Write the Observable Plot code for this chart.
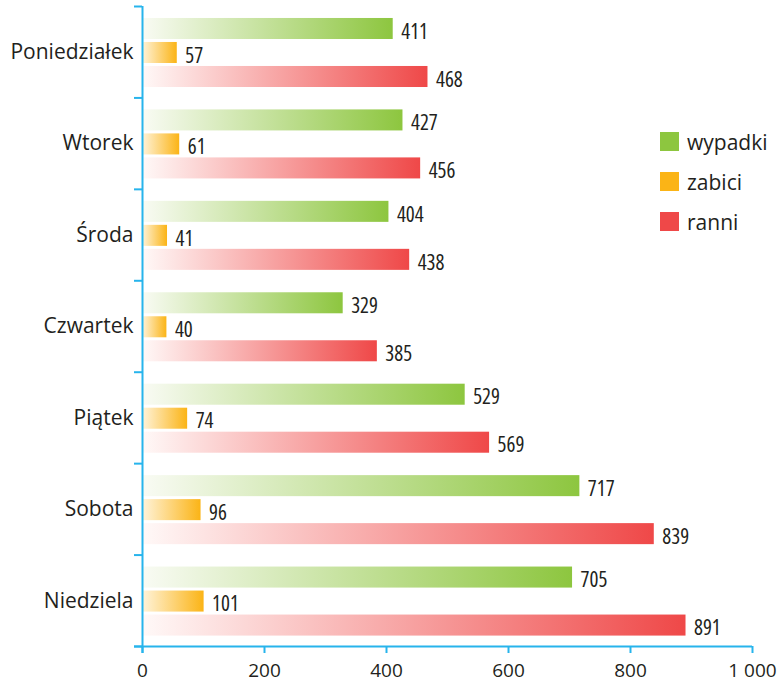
<!DOCTYPE html>
<html>
<head>
<meta charset="utf-8">
<script src="https://cdn.jsdelivr.net/npm/d3@7"></script>
<script src="https://cdn.jsdelivr.net/npm/@observablehq/plot@0.6"></script>
<style>
  html, body { margin: 0; padding: 0; background: #fff; }
  #wrap { position: relative; width: 779px; height: 684px; }
  #legend { position: absolute; left: 660px; top: 132px; font-family: "Open Sans", sans-serif; font-size: 21px; color: #231f20; }
  #legend .item { display: flex; align-items: center; height: 19px; margin-bottom: 21px; }
  #legend .sw { width: 19px; height: 19px; margin-right: 8px; flex: none; }
  .vals text { font-stretch: 75%; }
</style>
</head>
<body>
<div id="wrap"><div id="legend"></div></div>
<script>
const days = ["Poniedziałek", "Wtorek", "Środa", "Czwartek", "Piątek", "Sobota", "Niedziela"];
const seriesNames = ["wypadki", "zabici", "ranni"];
const wypadki = [411, 427, 404, 329, 529, 717, 705];
const zabici = [57, 61, 41, 40, 74, 96, 101];
const ranni = [468, 456, 438, 385, 569, 839, 891];
const seriesColors = ["#8dc63f", "#fbb416", "#ef4848"];
const seriesLight = ["#f9fbf4", "#fff4dc", "#fff9f8"];
const xTicks = [0, 200, 400, 600, 800, 1000];

const values = [wypadki, zabici, ranni];
const rows = days.flatMap((day, i) => seriesNames.map((s, j) => ({day, i, s, j, v: values[j][i]})));

const axisColor = "#27b4ec";
const textColor = "#231f20";
const start = 0.131, step = 0.2625, barH = 0.23;
const y1 = d => d.i + start + d.j * step;
const y2 = d => y1(d) + barH;
const yc = d => y1(d) + barH / 2;

const fmt = d3.formatLocale({decimal: ",", thousands: " ", grouping: [3], currency: ["", ""]}).format(",");

const barMarks = seriesNames.map((s, j) =>
  Plot.rect(rows.filter(d => d.j === j), {x1: 0, x2: "v", y1, y2, fill: `url(#grad${j})`})
);

const plot = Plot.plot({
  width: 779,
  height: 684,
  marginLeft: 142,
  marginRight: 27,
  marginTop: 6,
  marginBottom: 38,
  x: {domain: [0, 1000], label: null},
  y: {domain: [0, 7], reverse: true, label: null},
  style: {fontFamily: "'Open Sans', sans-serif", color: textColor, background: "white"},
  marks: [
    ...barMarks,
    Plot.text(rows, {
      x: "v", y: yc, text: d => String(d.v), dx: 8, dy: 3, textAnchor: "start",
      fontSize: 21, fill: textColor, fontFamily: "'Open Sans', sans-serif", className: "vals"
    }),
    Plot.ruleX([0], {y1: 0, y2: 7, insetBottom: -7, stroke: axisColor, strokeWidth: 2}),
    Plot.ruleY([7], {x1: 0, x2: 1000, insetLeft: -8, stroke: axisColor, strokeWidth: 2}),
    Plot.axisY({ticks: d3.range(days.length + 1), tickSize: 8, tickFormat: () => "", stroke: axisColor, strokeWidth: 2, label: null}),
    Plot.axisY({
      ticks: days.map((d, i) => i + 0.5), tickSize: 0, tickPadding: 9,
      tickFormat: v => days[Math.floor(v)], fontSize: 21, fill: textColor, label: null
    }),
    Plot.axisX({
      ticks: xTicks, tickSize: 7, tickPadding: 10, tickFormat: fmt,
      stroke: axisColor, strokeWidth: 2, fontSize: 19, fill: textColor, label: null
    })
  ]
});

const defs = d3.select(plot).insert("defs", ":first-child");
seriesColors.forEach((c, j) => {
  const g = defs.append("linearGradient").attr("id", `grad${j}`).attr("x1", 0).attr("x2", 1).attr("y1", 0).attr("y2", 0);
  g.append("stop").attr("offset", "0%").attr("stop-color", seriesLight[j]);
  g.append("stop").attr("offset", "100%").attr("stop-color", c);
});

document.getElementById("wrap").prepend(plot);

const legend = d3.select("#legend");
seriesNames.forEach((s, j) => {
  const item = legend.append("div").attr("class", "item");
  item.append("div").attr("class", "sw").style("background", seriesColors[j]);
  item.append("span").text(s);
});
</script>
</body>
</html>
